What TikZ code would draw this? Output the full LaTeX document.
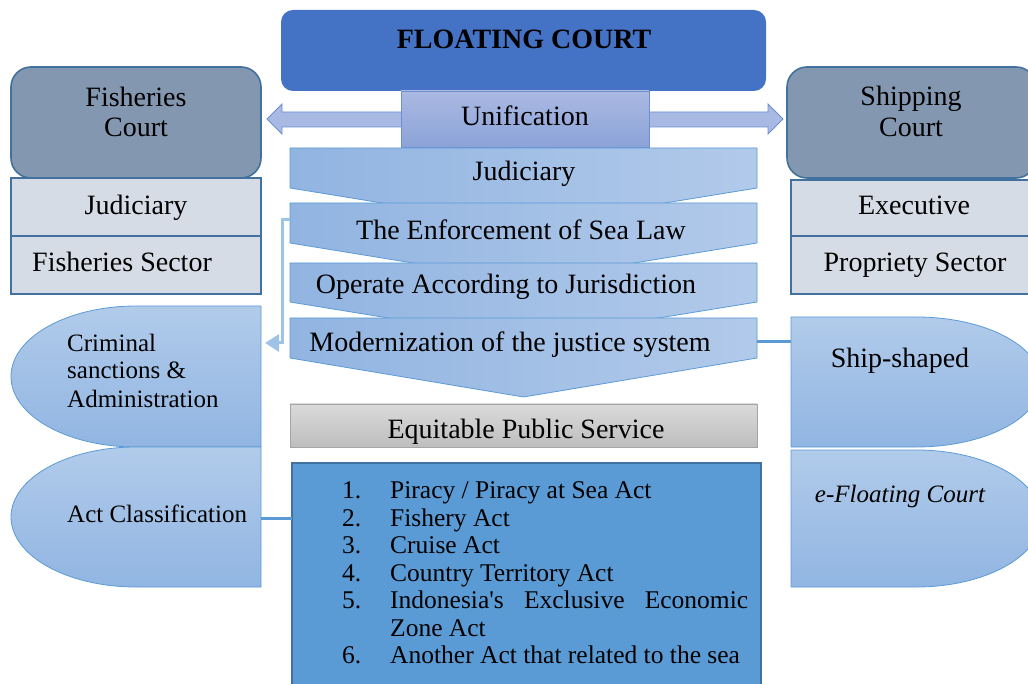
\documentclass[tikz,border=0pt]{standalone}
\usepackage{fontspec}
\setmainfont{Liberation Serif}
\usetikzlibrary{arrows.meta,calc}
\definecolor{fcblue}{HTML}{4472C4}
\definecolor{courtgray}{HTML}{8497B0}
\definecolor{darkborder}{HTML}{41719C}
\definecolor{paleslate}{HTML}{D6DCE5}
\definecolor{midblue}{HTML}{5B9BD5}
\definecolor{chevL}{HTML}{91B4E1}
\definecolor{chevR}{HTML}{B2CAEA}
\definecolor{ellT}{HTML}{B1CBEA}
\definecolor{ellB}{HTML}{91B5E2}
\definecolor{lavtop}{HTML}{AAB9E2}
\definecolor{lavbot}{HTML}{8CA3D8}
\definecolor{arrowfill}{HTML}{A8B9E3}
\definecolor{arrowborder}{HTML}{6E8FD1}
\definecolor{conlight}{HTML}{9DC3E6}
\definecolor{grayT}{HTML}{DADADA}
\definecolor{grayB}{HTML}{BEBEBE}
\definecolor{grayborder}{HTML}{A5A5A5}
\begin{document}
\begin{tikzpicture}[x=1pt,y=-1pt,
  txt/.style={inner sep=0pt,font=\fontsize{28}{30}\selectfont,anchor=base},
  ltxt/.style={inner sep=0pt,font=\fontsize{25}{27}\selectfont,anchor=base west},
  listtxt/.style={inner sep=0pt,font=\fontsize{25.5}{27.5}\selectfont,anchor=base west},
  courtbox/.style={draw=darkborder,line width=1.6pt,fill=courtgray,rounded corners=20pt},
  subbox/.style={draw=darkborder,line width=1.6pt,fill=paleslate},
  chev/.style={draw=midblue,line width=0.8pt,left color=chevL,right color=chevR},
  halfell/.style={draw=midblue,line width=0.8pt,top color=ellT,bottom color=ellB},
  conn/.style={draw=midblue,line width=3pt},
  connarrow/.style={draw=conlight,line width=3pt,-{Triangle[width=17pt,length=14pt]}}
]
\useasboundingbox (0,0) rectangle (1028,684);
\clip (0,0) rectangle (1028,684);

% double arrow (behind unification)
\path[draw=arrowborder,line width=0.8pt,fill=arrowfill]
  (267,119) -- (282,104) -- (282,112) -- (768,112) -- (768,104) -- (783,119)
  -- (768,134) -- (768,127) -- (282,127) -- (282,134) -- cycle;

% floating court
\path[fill=fcblue,rounded corners=12pt] (281,10) rectangle (766,91);
\node[txt,font=\fontsize{28}{30}\selectfont\bfseries] (fc) at (524,49) {FLOATING COURT};

% unification
\path[draw=arrowborder,line width=0.8pt,top color=lavtop,bottom color=lavbot] (401,91) rectangle (649,147);
\node[txt] (uni) at (525,126) {Unification};

% left court
\path[courtbox] (11,67) rectangle (261,178);
\node[txt] (fc1) at (136,107) {Fisheries};
\node[txt] (fc2) at (136,137) {Court};
\path[subbox] (11,178) rectangle (261,236);
\node[txt] (fj) at (136,215) {Judiciary};
\path[subbox] (11,236) rectangle (261,294);
\node[txt] (fs) at (122,272) {Fisheries Sector};

% right court
\path[courtbox] (787,67) rectangle (1036,178);
\node[txt] (sc1) at (911,106) {Shipping};
\node[txt] (sc2) at (911,137) {Court};
\path[subbox] (791,180) rectangle (1034,236);
\node[txt] (se) at (914,215) {Executive};
\path[subbox] (791,236) rectangle (1034,294);
\node[txt] (sp) at (915,272) {Propriety Sector};

% chevrons
\path[chev] (290,148) -- (757,148) -- (757,188) -- (523.5,226) -- (290,188) -- cycle;
\node[txt] (c1) at (524,181) {Judiciary};
\path[chev] (290,203) -- (757,203) -- (757,243) -- (523.5,281) -- (290,243) -- cycle;
\node[txt] (c2) at (521,240) {The Enforcement of Sea Law};
\path[chev] (290,263) -- (757,263) -- (757,302) -- (523.5,340) -- (290,302) -- cycle;
\node[txt] (c3) at (506,294) {Operate According to Jurisdiction};
\path[chev] (290,318) -- (757,318) -- (757,358) -- (523.5,397) -- (290,358) -- cycle;
\node[txt] (c4) at (510,352) {Modernization of the justice system};
\coordinate (enfL) at (290,220);
\coordinate (modR) at (757,342);

% equitable
\path[draw=grayborder,line width=0.8pt,top color=grayT,bottom color=grayB] (290,404) rectangle (757,447);
\node[txt] (eq) at (526,438) {Equitable Public Service};

% left half-ellipse shapes
\path[halfell] (261,306) -- (136,306) arc[start angle=270,end angle=90,x radius=125,y radius=70.5] -- (261,447) -- cycle;
\node[ltxt] (cr1) at (67,352) {Criminal};
\node[ltxt] (cr2) at (67,379) {sanctions \&};
\node[ltxt] (cr3) at (67,407) {Administration};
\coordinate (crimR) at (265,343);
\path[halfell] (261,447) -- (136,447) arc[start angle=270,end angle=90,x radius=125,y radius=70] -- (261,587) -- cycle;
\node[ltxt] (ac) at (67,522) {Act Classification};
\coordinate (actR) at (261,518);

% right half-ellipse shapes
\path[halfell] (791,317) -- (916,317) arc[start angle=270,end angle=450,x radius=125,y radius=65] -- (791,447) -- cycle;
\node[txt] (ship) at (900,368) {Ship-shaped};
\coordinate (shipL) at (791,342);
\path[halfell] (791,450) -- (916,450) arc[start angle=270,end angle=450,x radius=125,y radius=68.5] -- (791,587) -- cycle;
\node[txt,font=\fontsize{25}{27}\selectfont\itshape] (efc) at (900,502) {e-Floating Court};

% list box
\path[draw=darkborder,line width=2pt,fill=midblue] (292,463) rectangle (761,700);
\coordinate (listL) at (292,518);
\node[listtxt] (n1) at (342,498) {1.};
\node[listtxt] (t1) at (390,498) {Piracy / Piracy at Sea Act};
\node[listtxt] (n2) at (342,526) {2.};
\node[listtxt] (t2) at (390,526) {Fishery Act};
\node[listtxt] (n3) at (342,553) {3.};
\node[listtxt] (t3) at (390,553) {Cruise Act};
\node[listtxt] (n4) at (342,581) {4.};
\node[listtxt] (t4) at (390,581) {Country Territory Act};
\node[listtxt] (n5) at (342,608) {5.};
\node[listtxt] (t5) at (390,608) {\makebox[358pt][l]{Indonesia\textquotesingle s\hfill Exclusive\hfill Economic}};
\node[listtxt] (t5b) at (390,636) {Zone Act};
\node[listtxt] (n6) at (342,663) {6.};
\node[listtxt] (t6) at (390,663) {Another Act that related to the sea};

% connectors
\draw[connarrow] (enfL) -- ++(-8,0) |- (crimR);
\draw[conn] (modR) -- (shipL);
\draw[conn] (actR) -- (listL);
\end{tikzpicture}
\end{document}
